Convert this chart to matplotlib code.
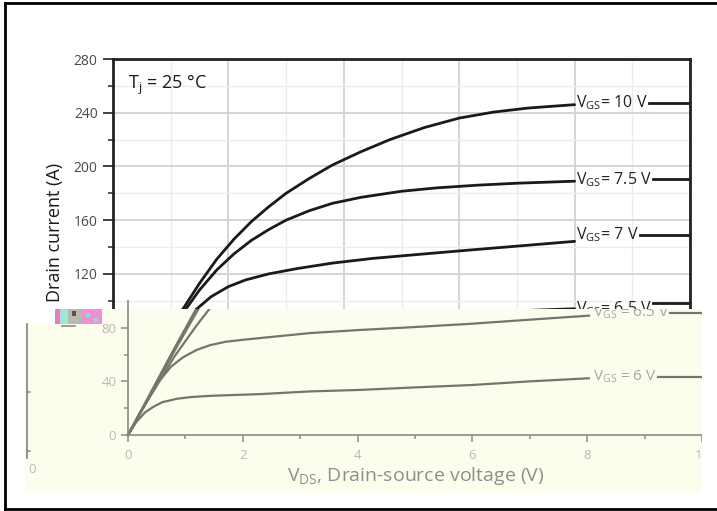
import matplotlib
matplotlib.use("Agg")
import matplotlib.pyplot as plt
from matplotlib.patches import Rectangle
from matplotlib.lines import Line2D
from matplotlib.ticker import MultipleLocator

plt.rcParams['font.family'] = ['Open Sans', 'DejaVu Sans']

W, H = 717, 511

# upper (white) chart, VGS curves
top_vds_10 = [0, 0.4, 0.8, 1.2, 1.5, 1.8, 2.1, 2.4, 2.7, 3.0, 3.4, 3.8, 4.3, 4.8, 5.4, 6.0, 6.6, 7.2, 8.0]
top_id_10 = [0, 32, 64, 93, 113, 131, 146, 159, 170, 180, 191, 201, 211, 220, 229, 236, 240.5, 243.5, 246]
top_vds_75 = [0, 0.4, 0.8, 1.2, 1.5, 1.8, 2.1, 2.4, 2.7, 3.0, 3.4, 3.8, 4.3, 5.0, 5.6, 6.3, 7.0, 8.0]
top_id_75 = [0, 31, 62, 90, 108, 123, 135, 145, 153, 160, 167, 172.5, 177, 181.5, 184, 186, 187.5, 189]
top_vds_7 = [0, 0.4, 0.8, 1.1, 1.4, 1.7, 2.0, 2.3, 2.7, 3.2, 3.8, 4.5, 5.3, 6.2, 7.1, 8.0]
top_id_7 = [0, 30, 58, 77, 92, 103, 110.5, 115.5, 120, 124, 128, 131.5, 134.5, 137.8, 141, 144.2]
top_vds_65 = [0, 1.0, 1.5, 2.0, 3.0, 4.0, 5.0, 6.0, 7.0, 8.0]
top_id_65 = [0, 70, 78, 82, 85, 87, 89, 91, 92.5, 94]
top_labels = ["10", "7.5", "7", "6.5"]
top_label_ids = [247.5, 190.5, 149, 94]
top_leader_ids = [247.5, 190.5, 149, 98]

# lower (beige) chart
bot_vds_10 = [0, 0.4, 0.8, 1.2, 1.3]
bot_id_10 = [0, 32, 64, 95, 103]
bot_vds_75 = [0, 0.4, 0.8, 1.2, 1.3]
bot_id_75 = [0, 31, 62, 92, 99]
bot_vds_7 = [0, 0.4, 0.8, 1.2, 1.6]
bot_id_7 = [0, 30, 58, 82, 104]
bot_vds_65 = [0, 0.2, 0.4, 0.56, 0.75, 0.96, 1.2, 1.43, 1.7, 2.0, 3.17, 4.03, 5.0, 6.0, 7.0, 8.03]
bot_id_65 = [0, 16, 30, 41, 51, 58, 63.5, 67, 69.5, 71, 76, 78.3, 80.5, 83, 86, 89]
bot_vds_6 = [0, 0.15, 0.3, 0.44, 0.6, 0.85, 1.1, 1.43, 2.3, 3.17, 4.03, 5.0, 6.0, 7.0, 8.03]
bot_id_6 = [0, 10, 17, 21, 24.5, 27, 28.3, 29.2, 30.5, 32.5, 33.6, 35.5, 37.3, 40, 42.3]
bot_labels = ["6.5", "6"]
bot_label_ids = [91, 43.5]


def px_box(x0, y0, x1, y1):
    return [x0 / W, 1 - y1 / H, (x1 - x0) / W, (y1 - y0) / H]


def fxy(x, y):
    return x / W, 1 - y / H


fig = plt.figure(figsize=(W / 100, H / 100), dpi=100)

# ---- upper chart ----
ax = fig.add_axes(px_box(113, 59, 690, 435))
ax.set_zorder(1)
ax.set_xlim(0, 10)
ax.set_ylim(0, 280)
ax.xaxis.set_major_locator(MultipleLocator(2))
ax.xaxis.set_minor_locator(MultipleLocator(1))
ax.yaxis.set_major_locator(MultipleLocator(40))
ax.yaxis.set_minor_locator(MultipleLocator(20))
ax.grid(which='major', color='#d2d2d2', lw=1.3)
ax.grid(which='minor', color='#ececec', lw=1.0)
ax.set_axisbelow(True)
ax.tick_params(axis='x', which='both', length=0, labelbottom=False)
ax.tick_params(axis='y', which='major', direction='out', length=7, width=1.3,
               color='#333333', labelsize=10, labelcolor='#4a4a4a', pad=4)
ax.tick_params(axis='y', which='minor', direction='out', length=3.5, width=1.2, color='#333333')
for side in ['top', 'right', 'left']:
    ax.spines[side].set_color('#222222')
    ax.spines[side].set_linewidth(2)
ax.spines['bottom'].set_visible(False)

top_curves = [(top_vds_10, top_id_10), (top_vds_75, top_id_75),
              (top_vds_7, top_id_7), (top_vds_65, top_id_65)]
for (v, i) in top_curves:
    ax.plot(v, i, color='#1a1a1a', lw=2.0, solid_capstyle='round', solid_joinstyle='round')

ax.text(0.026, 0.931, r'T$_\mathregular{j}$ = 25 °C', transform=ax.transAxes,
        ha='left', va='center', fontsize=13, color='#1a1a1a')
ax.text(-0.1005, 0.54, 'Drain current (A)', transform=ax.transAxes, rotation=90,
        ha='center', va='center', fontsize=13, color='#1a1a1a')

top_texts = []
for lab, iy in zip(top_labels, top_label_ids):
    t = ax.text(8.03, iy, r'V$_\mathregular{GS}$= ' + lab + ' V', ha='left', va='center',
                fontsize=11.5, color='#222222')
    top_texts.append(t)

# ---- lower chart (beige panel) ----
beige = '#fdfdee'
ax2 = fig.add_axes(px_box(25, 309, 702, 493))
ax2.set_zorder(2)
ax2.set_facecolor(beige)
ax2.set_xlim((25 - 128) / 57.4, 10)
ax2.set_ylim((435 - 493) / 1.341, (435 - 309) / 1.341)
for side in ['top', 'right']:
    ax2.spines[side].set_visible(False)
ax2.spines['left'].set_position(('data', 0))
ax2.spines['bottom'].set_position(('data', 0))
ax2.spines['left'].set_bounds(0, 100)
ax2.spines['bottom'].set_bounds(0, 10)
for side in ['left', 'bottom']:
    ax2.spines[side].set_color('#8c8c80')
    ax2.spines[side].set_linewidth(1.2)
ax2.set_xticks([0, 2, 4, 6, 8, 10])
ax2.set_xticks([1, 3, 5, 7, 9], minor=True)
ax2.set_yticks([0, 40, 80])
ax2.set_yticks([20, 60], minor=True)
ax2.tick_params(which='both', direction='out', color='#8c8c80', width=1.1,
                labelsize=9.5, labelcolor='#b9b9b0')
ax2.tick_params(which='major', length=5)
ax2.tick_params(which='minor', length=3)
ax2.tick_params(axis='x', pad=5)

bot_curves = [(bot_vds_10, bot_id_10), (bot_vds_75, bot_id_75), (bot_vds_7, bot_id_7),
              (bot_vds_65, bot_id_65), (bot_vds_6, bot_id_6)]
for (v, i) in bot_curves:
    ax2.plot(v, i, color='#76756a', lw=1.6, solid_joinstyle='round')

bot_texts = []
for lab, iy in zip(bot_labels, bot_label_ids):
    t = ax2.text(8.1, iy, r'V$_{\mathregular{GS}}$ = ' + lab + ' V', ha='left', va='center',
                 fontsize=11, color='#a6a69e', clip_on=True)
    bot_texts.append(t)

ax2.text(0.5775, 0.095, r'V$_\mathregular{DS}$, Drain-source voltage (V)', transform=ax2.transAxes,
         ha='center', va='center', fontsize=14, color='#8f8f88')

# label leader segments from end of text to right edge
fig.canvas.draw()
for t, iy in zip(top_texts, top_leader_ids):
    x0 = ax.transData.inverted().transform((t.get_window_extent().x1 + 1, 0))[0]
    ax.plot([x0, 10], [iy, iy], color='#1a1a1a', lw=2.0)
for t, iy in zip(bot_texts, bot_label_ids):
    x0 = ax2.transData.inverted().transform((t.get_window_extent().x1 + 1, 0))[0]
    ax2.plot([x0, 10.3], [iy, iy], color='#76756a', lw=1.6)


# ---- scan artefacts around the panel ----
def add_rect(x0, y0, x1, y1, color, z=5):
    (fx0, fy1), (fx1, fy0) = fxy(x0, y0), fxy(x1, y1)
    fig.add_artist(Rectangle((fx0, fy0), fx1 - fx0, fy1 - fy0, transform=fig.transFigure,
                             facecolor=color, edgecolor='none', zorder=z))


add_rect(25, 309, 55, 324, 'white')
add_rect(702, 309, 717, 493, 'white')
add_rect(55, 309, 60, 324, '#e27cc4')
add_rect(60, 309, 68, 324, '#9fe6d6')
add_rect(68, 309, 81, 324, '#b9b9ae')
add_rect(81, 309, 102, 324, '#f08fd2')
add_rect(86, 313, 90, 317, '#7fe3d0', z=6)
add_rect(94, 318, 98, 322, '#7fe3d0', z=6)
add_rect(72, 311, 76, 316, '#55554c', z=6)


def add_line(xs, ys, color, lw):
    pts = [fxy(x, y) for x, y in zip(xs, ys)]
    fig.add_artist(Line2D([p[0] for p in pts], [p[1] for p in pts], transform=fig.transFigure,
                          color=color, lw=lw, zorder=6))


add_line([62, 75], [326, 326], '#8c8c80', 1.2)
add_line([27, 27], [324, 458], '#8c8c80', 1.3)
add_line([27, 30], [392, 392], '#8c8c80', 1.1)
add_line([27, 30], [451, 451], '#8c8c80', 1.1)
fig.text(*fxy(32, 469), '0', ha='center', va='center', fontsize=9.5, color='#b9b9b0', zorder=6)

# outer frame
add_line([5, 5], [3, 509], 'black', 2)
add_line([5, 717], [3, 3], 'black', 2)
add_line([5, 717], [509, 509], 'black', 2)

fig.savefig('out.png', dpi=100, facecolor='white')
